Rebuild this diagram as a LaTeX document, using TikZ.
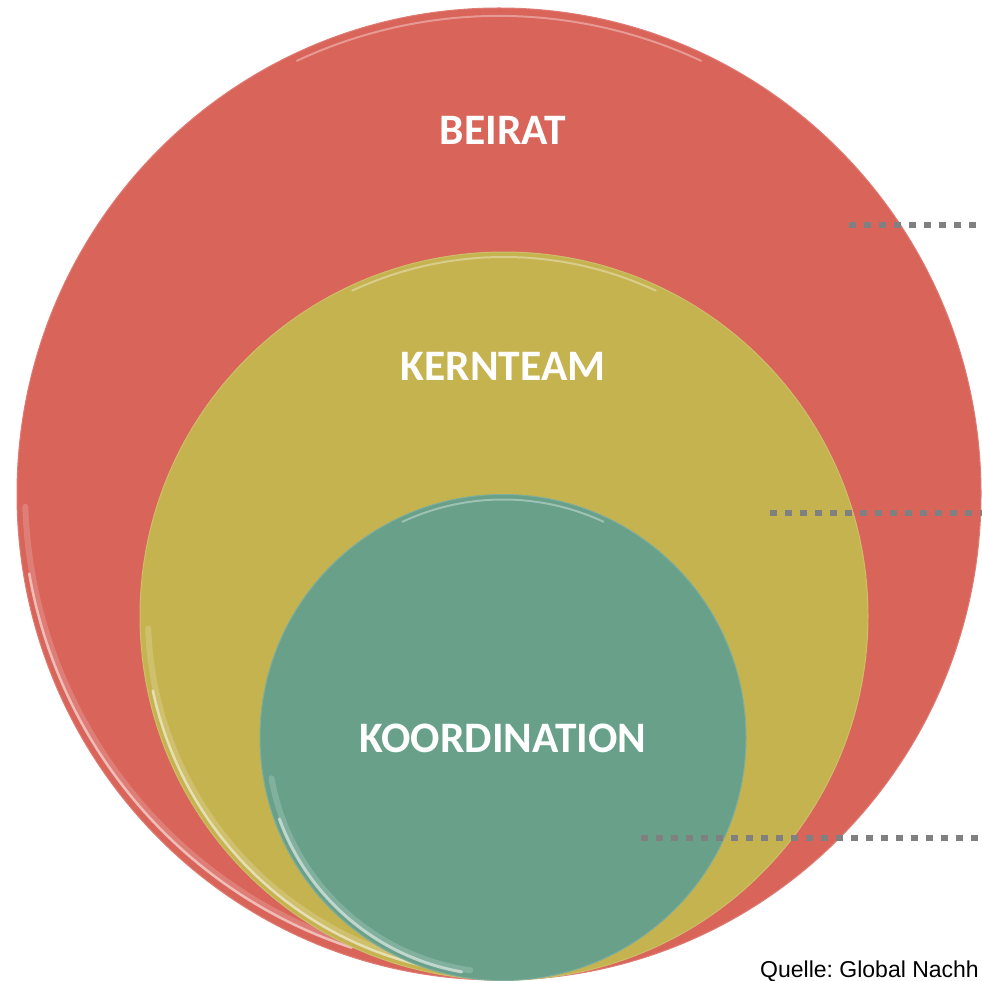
\documentclass[tikz,border=0pt]{standalone}
\usepackage{fontspec}
\setmainfont{Liberation Sans}
\newfontfamily\labelfont{Carlito}
\definecolor{beiratc}{HTML}{D9645A}
\definecolor{kernc}{HTML}{C5B34F}
\definecolor{koordc}{HTML}{68A08A}
\definecolor{dotc}{HTML}{808080}
\tikzset{
  disc/.style={draw=#1!85!white, line width=1pt, fill=#1},
  glow/.style={draw=#1!30!white, line width=2.5pt, line cap=round, draw opacity=0.8},
  softglow/.style={draw=#1!50!white, line width=6pt, line cap=round, draw opacity=0.35},
  lbl/.style={text=white, font=\labelfont\fontsize{43.5}{48}\selectfont\bfseries, inner sep=0pt},
  leader/.style={draw=dotc, line width=6.5pt, dash pattern=on 7pt off 8pt},
}
\begin{document}
\frenchspacing
\begin{tikzpicture}[x=1pt, y=-1pt]
\useasboundingbox (0,0) rectangle (982,981);
\fill[white] (0,0) rectangle (982,981);
% red circle
\path[disc=beiratc] (499,494) ellipse [x radius=482, y radius=486];
\draw[softglow=beiratc] (499,494) ++(105:474) arc[start angle=105, end angle=178, x radius=474, y radius=478];
\draw[glow=beiratc] (499,494) ++(108:477) arc[start angle=108, end angle=170, x radius=477, y radius=481];
\draw[glow=beiratc, line width=2pt, draw opacity=0.5] (499,494) ++(245:478) arc[start angle=245, end angle=295, x radius=478, y radius=479];
% yellow circle
\path[disc=kernc] (504,616) circle[radius=364];
\draw[softglow=kernc] (504,616) ++(100:356) arc[start angle=100, end angle=178, radius=356];
\draw[glow=kernc] (504,616) ++(103:359) arc[start angle=103, end angle=168, radius=359];
\draw[glow=kernc, line width=2pt, draw opacity=0.5] (504,616) ++(245:359) arc[start angle=245, end angle=295, radius=359];
% green circle
\path[disc=koordc] (503,737.5) circle[radius=243];
\draw[softglow=koordc] (503,737.5) ++(98:235) arc[start angle=98, end angle=170, radius=235];
\draw[glow=koordc, line width=3pt] (503,737.5) ++(100:238) arc[start angle=100, end angle=160, radius=238];
\draw[glow=koordc, line width=2pt, draw opacity=0.5] (503,737.5) ++(245:238) arc[start angle=245, end angle=295, radius=238];
% labels
\node[lbl] (beirat) at (503,130) {BEIRAT};
\node[lbl] (kern) at (503,366) {KERNTEAM};
\node[lbl] (koord) at (503,738) {KOORDINATION};
% leader lines
\coordinate (l1a) at (849,225); \coordinate (l1b) at (985,225);
\coordinate (l2a) at (770,513); \coordinate (l2b) at (985,513);
\coordinate (l3a) at (641,838); \coordinate (l3b) at (985,838);
\draw[leader] (l1a) -- (l1b);
\draw[leader] (l2a) -- (l2b);
\draw[leader] (l3a) -- (l3b);
% source
\node[anchor=base west, inner sep=0pt, font=\fontsize{23}{27}\selectfont] (src) at (760,977) {Quelle: Global Nachh};
\end{tikzpicture}
\end{document}
